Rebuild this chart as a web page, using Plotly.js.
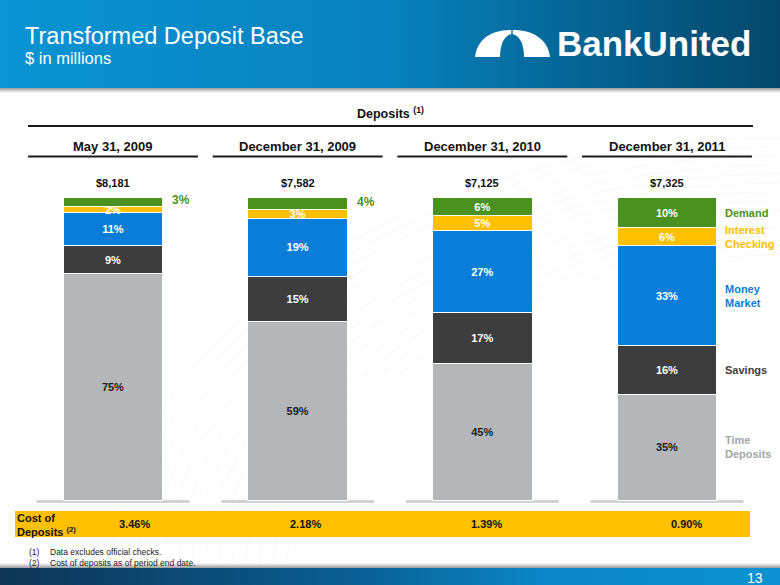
<!DOCTYPE html>
<html><head><meta charset="utf-8">
<script src="https://cdn.plot.ly/plotly-3.0.1.min.js"></script>
<style>html,body{margin:0;padding:0;background:#fff}#chart{width:780px;height:585px}</style>
</head><body><div id="chart"></div>
<script>
// ---- data ----
const categories = ["May 31, 2009", "December 31, 2009", "December 31, 2010", "December 31, 2011"];
const totals = ["$8,181", "$7,582", "$7,125", "$7,325"];
const timeDeposits = [75, 59, 45, 35];
const savings = [9, 15, 17, 16];
const moneyMarket = [11, 19, 27, 33];
const interestChecking = [2, 3, 5, 6];
const demand = [3, 4, 6, 10];
const costOfDeposits = ["3.46%", "2.18%", "1.39%", "0.90%"];
const seriesLabels = ["Time<br>Deposits", "Savings", "Money<br>Market", "Interest<br>Checking", "Demand"];
const footnotes = ["Data excludes official checks.", "Cost of deposits as of period end date."];

// ---- helpers (pixel -> paper) ----
const W = 780, H = 585;
const px = x => x / W;
const py = y => 1 - y / H;
const FONT = "Liberation Sans, Arial, Helvetica, sans-serif";

const series = [
  {y: timeDeposits, color: "#B3B7B9", text: "#1a1a1a", label: "#A3A7A9"},
  {y: savings, color: "#3D3D3D", text: "#ffffff", label: "#3D3D3D"},
  {y: moneyMarket, color: "#0A7DD8", text: "#ffffff", label: "#0A7DD8"},
  {y: interestChecking, color: "#FFC000", text: "#ffffff", label: "#FFC000"},
  {y: demand, color: "#4A9120", text: "#ffffff", label: "#4A9120"}
];

const traces = series.map((s, k) => ({
  type: "bar",
  x: categories,
  y: s.y,
  width: 0.54,
  marker: {color: s.color, line: {color: "#ffffff", width: 1}},
  text: s.y.map(v => "<b>" + v + "%</b>"),
  textposition: s.y.map(v => (k === 4 && v < 5) ? "none" : "inside"),
  insidetextanchor: "middle",
  constraintext: "none",
  textfont: {family: FONT, size: 11, color: s.text},
  hoverinfo: "none",
  showlegend: false,
  cliponaxis: false
}));

// ---- background svg (header gradient, logo mark, footer) ----
let arcs = "";
for (let r = 0; r < 14; r++) {
  const rr = 330 + r * 9;
  arcs += `<path d='M ${780 - rr * 1.5} 585 A ${rr * 1.5} ${rr} 0 0 1 780 ${585 - rr}' fill='none' stroke='#f3f3f3' stroke-width='0.6'/>`;
}
const svg = `<svg xmlns='http://www.w3.org/2000/svg' width='780' height='585' viewBox='0 0 780 585'>
<defs>
<linearGradient id='h' gradientUnits='userSpaceOnUse' x1='0' y1='0' x2='780' y2='0'>
<stop offset='0' stop-color='#0A94D3'/><stop offset='0.5' stop-color='#0781BD'/><stop offset='1' stop-color='#04476A'/></linearGradient>
<linearGradient id='s' x1='0' y1='0' x2='0' y2='1'><stop offset='0' stop-color='#9a9a9a'/><stop offset='1' stop-color='#ffffff'/></linearGradient>
<linearGradient id='s2' x1='0' y1='0' x2='0' y2='1'><stop offset='0' stop-color='#ffffff'/><stop offset='1' stop-color='#9a9a9a'/></linearGradient>
<linearGradient id='f' gradientUnits='userSpaceOnUse' x1='0' y1='0' x2='780' y2='0'>
<stop offset='0' stop-color='#0E3455'/><stop offset='0.45' stop-color='#0A5E92'/><stop offset='0.7' stop-color='#0B86C6'/><stop offset='1' stop-color='#0C92D2'/></linearGradient>
</defs>
${arcs}
<rect x='0' y='0' width='780' height='88' fill='url(#h)'/>
<rect x='0' y='88' width='780' height='5' fill='url(#s)'/>
<path d='M475,57 C477,40 490,30 511,30 L513,30 C534,30 548,40 550,57 Z' fill='#ffffff'/>
<path d='M500,57 C500,43 505,35 512,34 C519,35 524,43 524,57 Z' fill='url(#h)'/>
<rect x='511.3' y='29' width='1.4' height='8' fill='url(#h)'/>
<rect x='0' y='563' width='780' height='5' fill='url(#s2)'/>
<rect x='0' y='568' width='780' height='17' fill='url(#f)'/>
</svg>`;
const svgUri = "data:image/svg+xml;charset=utf-8," + encodeURIComponent(svg);

// ---- shapes ----
const shapes = [];
shapes.push({type: "line", xref: "paper", yref: "paper", x0: px(28), x1: px(753), y0: py(126), y1: py(126), line: {color: "#1a1a1a", width: 2}});
categories.forEach((c, i) => {
  shapes.push({type: "line", xref: "x", yref: "paper", x0: i - 0.46, x1: i + 0.46, y0: py(156.5), y1: py(156.5), line: {color: "#1a1a1a", width: 2}});
  shapes.push({type: "line", xref: "x", yref: "paper", x0: i - 0.414, x1: i + 0.414, y0: py(501.5), y1: py(501.5), line: {color: "#d2d2d2", width: 3}, layer: "below"});
});
shapes.push({type: "rect", xref: "paper", yref: "paper", x0: px(15), x1: px(750), y0: py(537), y1: py(511), fillcolor: "#FFC000", line: {width: 0}});

// ---- annotations ----
const ann = [];
const A = o => ann.push(Object.assign({showarrow: false, font: {family: FONT}}, o));
A({xref: "paper", yref: "paper", x: px(23), y: py(36), xanchor: "left", yanchor: "middle", text: "Transformed Deposit Base", font: {family: FONT, size: 23.5, color: "#ffffff"}});
A({xref: "paper", yref: "paper", x: px(23), y: py(58), xanchor: "left", yanchor: "middle", text: "$ in millions", font: {family: FONT, size: 16.5, color: "#ffffff"}});
A({xref: "paper", yref: "paper", x: px(555), y: py(44), xanchor: "left", yanchor: "middle", text: "<b>BankUnited</b>", font: {family: FONT, size: 35, color: "#ffffff"}});
A({xref: "paper", yref: "paper", x: px(390), y: py(113), xanchor: "center", yanchor: "middle", text: "<b>Deposits <sup>(1)</sup></b>", font: {family: FONT, size: 12.5, color: "#111111"}});

categories.forEach((c, i) => {
  A({xref: "x", yref: "paper", x: i, y: py(146), xanchor: "center", yanchor: "middle", text: "<b>" + c + "</b>", font: {family: FONT, size: 13, color: "#111111"}});
  A({xref: "x", yref: "y", x: i, y: 100, yshift: 7, xanchor: "center", yanchor: "bottom", text: "<b>" + totals[i] + "</b>", font: {family: FONT, size: 11, color: "#111111"}});
  if (demand[i] < 5) {
    A({xref: "x", yref: "y", x: i, y: 100 - demand[i] / 2, xshift: 57, yshift: 2, xanchor: "left", yanchor: "middle", text: "<b>" + demand[i] + "%</b>", font: {family: FONT, size: 12, color: "#4A9120"}});
  }
});

const last = categories.length - 1;
let cum = 0;
series.forEach((s, k) => {
  const v = s.y[last];
  A({xref: "x", yref: "y", x: last, y: cum + v / 2, xshift: 56, xanchor: "left", yanchor: "middle", align: "left", text: "<b>" + seriesLabels[k] + "</b>", font: {family: FONT, size: 11, color: s.label}});
  cum += v;
});

A({xref: "paper", yref: "paper", x: px(15), y: py(524.5), xanchor: "left", yanchor: "middle", align: "left", text: "<b>Cost of<br>Deposits <sup>(2)</sup></b>", font: {family: FONT, size: 11, color: "#111111"}});
const costX = [134, 305, 486, 686];
costOfDeposits.forEach((t, i) => {
  A({xref: "paper", yref: "paper", x: px(costX[i]), y: py(524), xanchor: "center", yanchor: "middle", text: "<b>" + t + "</b>", font: {family: FONT, size: 11, color: "#111111"}});
});

footnotes.forEach((t, i) => {
  A({xref: "paper", yref: "paper", x: px(27), y: py(552 + i * 11), xanchor: "left", yanchor: "middle", text: "(" + (i + 1) + ")", font: {family: FONT, size: 8.5, color: "#222222"}});
  A({xref: "paper", yref: "paper", x: px(48), y: py(552 + i * 11), xanchor: "left", yanchor: "middle", text: t, font: {family: FONT, size: 8.5, color: "#222222"}});
});
A({xref: "paper", yref: "paper", x: px(755), y: py(578), xanchor: "center", yanchor: "middle", text: "13", font: {family: FONT, size: 14, color: "#ffffff"}});

const layout = {
  width: W, height: H,
  margin: {l: 0, r: 0, t: 0, b: 0, pad: 0},
  paper_bgcolor: "#ffffff",
  plot_bgcolor: "rgba(0,0,0,0)",
  barmode: "stack",
  font: {family: FONT},
  xaxis: {type: "category", range: [-0.6119, 3.6119], visible: false, fixedrange: true},
  yaxis: {range: [-28.10, 165.29], visible: false, fixedrange: true},
  uniformtext: {mode: "show", minsize: 11},
  shapes: shapes,
  annotations: ann,
  images: [{source: svgUri, xref: "paper", yref: "paper", x: 0, y: 1, sizex: 1, sizey: 1, sizing: "stretch", xanchor: "left", yanchor: "top", layer: "below"}]
};

Plotly.newPlot("chart", traces, layout, {staticPlot: true, displayModeBar: false});
</script>
</body></html>
